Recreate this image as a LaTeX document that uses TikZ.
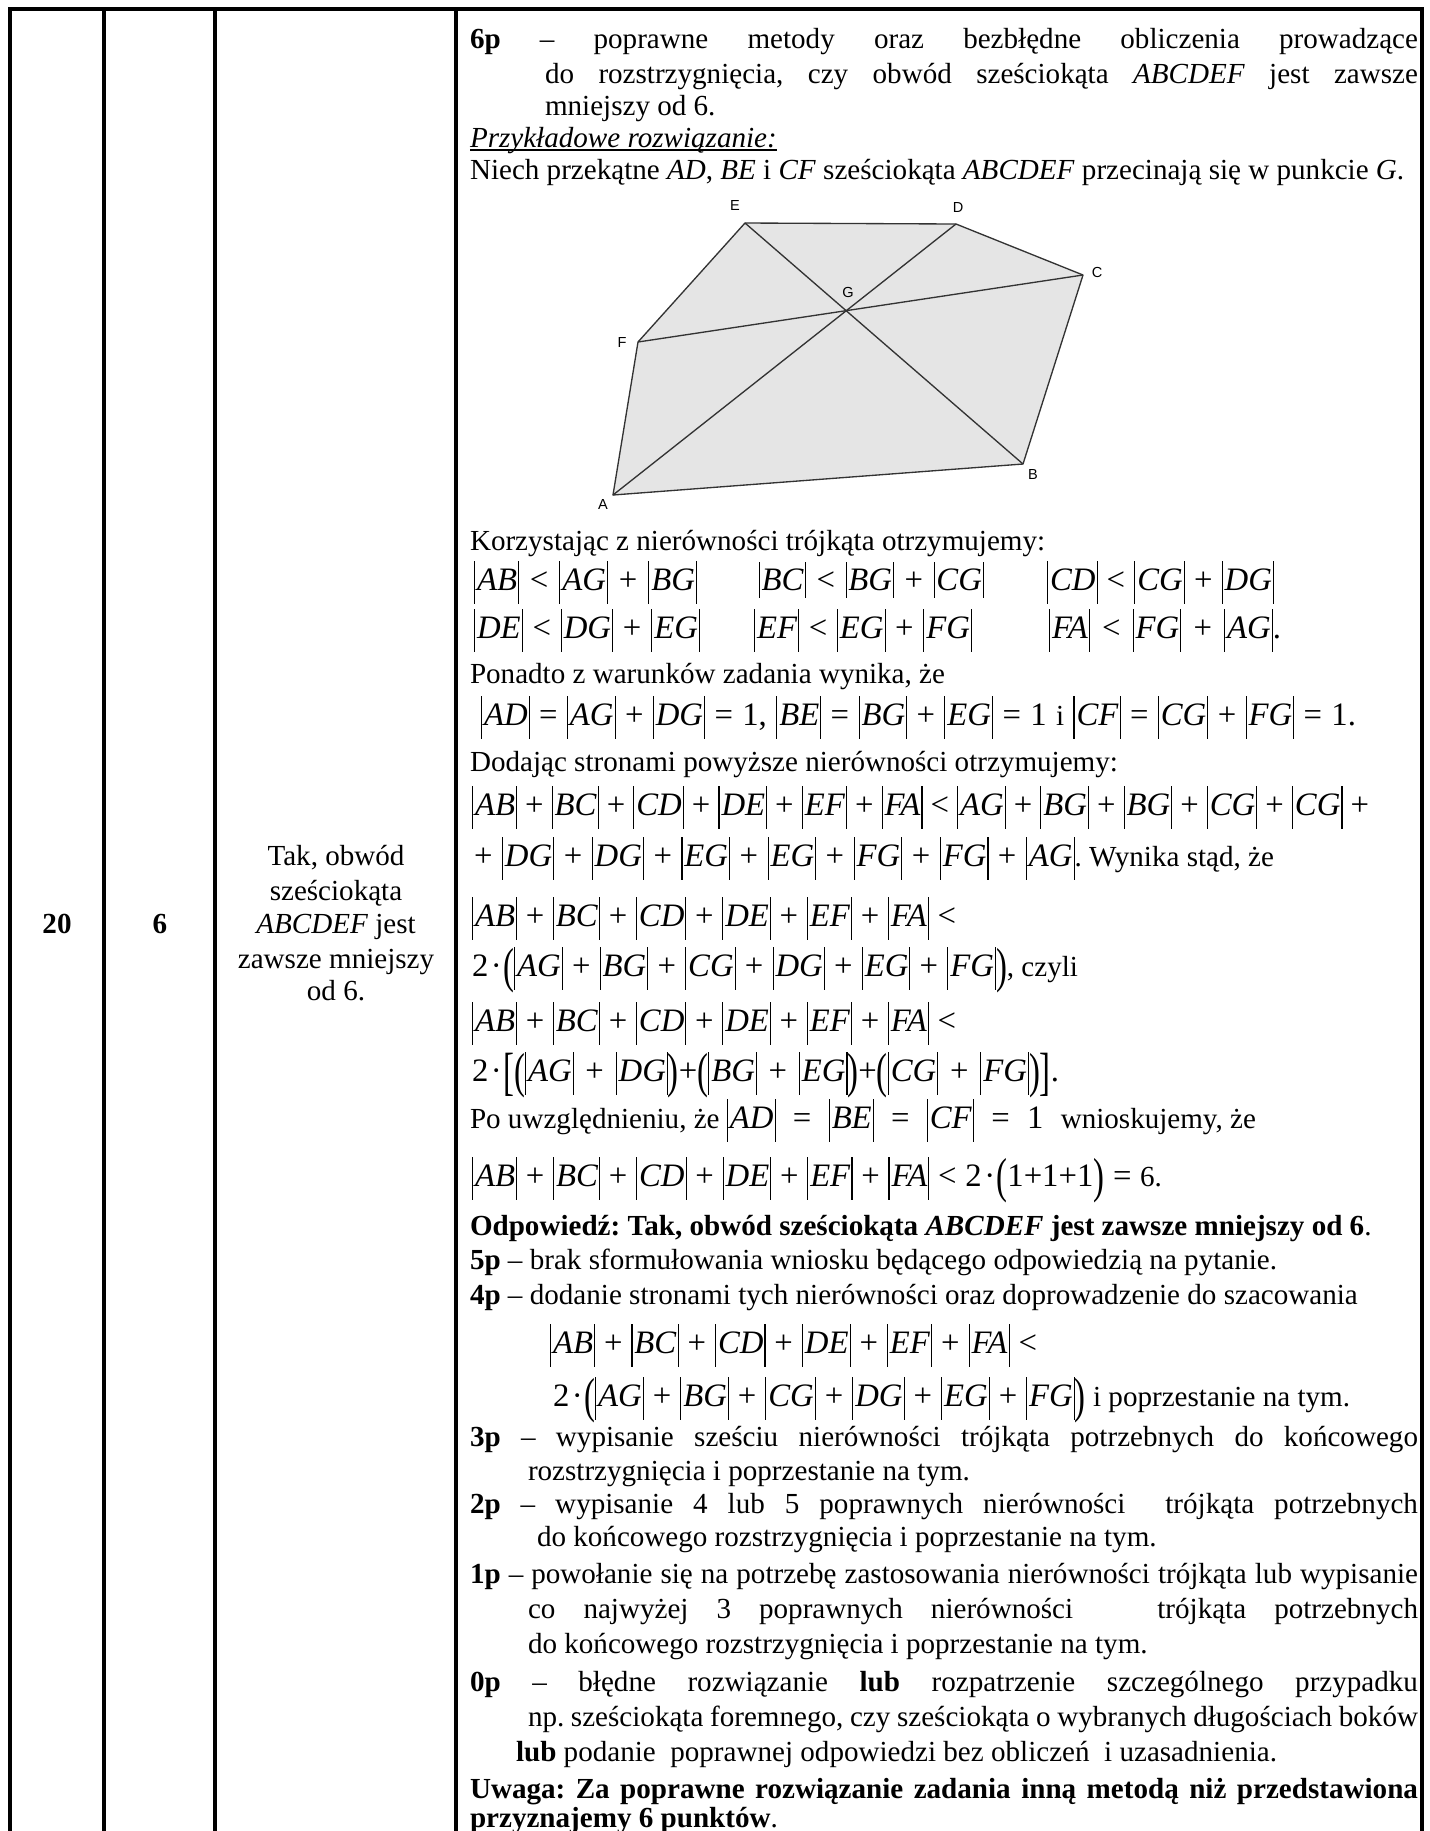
\documentclass[tikz,border=0pt]{standalone}
\usepackage{fontspec}
\usepackage{graphicx}
\setmainfont{Liberation Serif}
\newfontfamily\lblfont{Liberation Sans}
\newdimen\pxu \pxu=0.4125pt
\newcommand\fmath{\fontsize{13.5pt}{14pt}\selectfont}
\newcommand\vb{\rule[-0.42em]{0.45pt}{1.3em}}
\newcommand\vbs{\rule[-0.24em]{0.45pt}{1.1em}}
\newcommand\nv[1]{{\fmath\vb\kern0.06em\textit{#1}\kern0.03em\vb}}
\newcommand\nvs[1]{{\fmath\vbs\kern0.05em\textit{#1}\kern0.03em\vbs}}
\newcommand\gl{\hspace{0pt plus 1fil}}
\newcommand\Op[1]{\gl{\fmath#1}\gl}
\newcommand\LP{{\fmath\raisebox{-0.2em}{\scalebox{1}[1.5]{(}}}}
\newcommand\RP{{\fmath\raisebox{-0.2em}{\scalebox{1}[1.5]{)}}}}
\newcommand\LB{{\fmath\raisebox{-0.26em}{\scalebox{1}[1.6]{[}}}}
\newcommand\RB{{\fmath\raisebox{-0.26em}{\scalebox{1}[1.6]{]}}}}
\newcommand\two{{\fmath 2\kern0.08em·\kern0.04em}}
\newcommand\J[2]{\makebox[#1\pxu][s]{#2}}
\newcommand\ulin[1]{\setbox0=\hbox{#1}\rlap{\rule[-1.6pt]{\wd0}{0.6pt}}\box0}
\newcommand\lhs{\nv{AB}\Op{+}\nv{BC}\Op{+}\nv{CD}\Op{+}\nv{DE}\Op{+}\nv{EF}\Op{+}\nv{FA}}
\frenchspacing
\begin{document}
\begin{tikzpicture}[x=0.4125pt,y=-0.4125pt,
  txt/.style={inner sep=0pt,outer sep=0pt,anchor=base west,font=\fontsize{12pt}{14pt}\selectfont},
  ctr/.style={inner sep=0pt,outer sep=0pt,anchor=base,font=\fontsize{12pt}{14pt}\selectfont},
  tbl/.style={line width=1.4pt,black},
  lbl/.style={inner sep=0pt,font=\lblfont\fontsize{6pt}{7pt}\selectfont},
  edge/.style={line width=0.55pt,black!80}]
\useasboundingbox (0,0) rectangle (1430,1831);
% table
\draw[tbl] (10,1831) -- (10,9) -- (1422,9) -- (1422,1831);
\draw[tbl] (104,9) -- (104,1831);
\draw[tbl] (215,9) -- (215,1831);
\draw[tbl] (456,9) -- (456,1831);
% left columns
\node[ctr] (c1) at (57,933) {\textbf{20}};
\node[ctr] (c2) at (160,933) {\textbf{6}};
\node[ctr] (c3a) at (336,865) {Tak, obwód};
\node[ctr] (c3b) at (336,900) {sześciokąta};
\node[ctr] (c3c) at (336,933) {\textit{ABCDEF} jest};
\node[ctr] (c3d) at (336,968) {zawsze mniejszy};
\node[ctr] (c3e) at (336,1000) {od 6.};
% header text
\node[txt] (t1) at (470,48) {\J{948}{\textbf{6p} – poprawne metody oraz bezbłędne obliczenia prowadzące}};
\node[txt] (t2) at (545,83) {\J{873}{do rozstrzygnięcia, czy obwód sześciokąta \textit{ABCDEF} jest zawsze}};
\node[txt] (t3) at (545,115) {mniejszy od 6.};
\node[txt] (t4) at (470,147) {\ulin{\textit{Przykładowe rozwiązanie:}}};
\node[txt] (t5) at (470,179) {Niech przekątne \textit{AD}, \textit{BE} i \textit{CF} sześciokąta \textit{ABCDEF} przecinają się w punkcie \textit{G}.};
% figure
\coordinate (A) at (613,495);
\coordinate (B) at (1023,464);
\coordinate (C) at (1083,275);
\coordinate (D) at (956,224);
\coordinate (E) at (745,223);
\coordinate (F) at (638,342);
\coordinate (G) at (847,310);
\fill[black!10] (A) -- (B) -- (C) -- (D) -- (E) -- (F) -- cycle;
\draw[edge,line join=round] (A) -- (B) -- (C) -- (D) -- (E) -- (F) -- cycle;
\draw[edge] (A) -- (D);
\draw[edge] (B) -- (E);
\draw[edge] (C) -- (F);
\node[lbl] (lE) at (735,205) {E};
\node[lbl] (lD) at (958,207) {D};
\node[lbl] (lC) at (1097,272) {C};
\node[lbl] (lG) at (848,292) {G};
\node[lbl] (lF) at (622,342) {F};
\node[lbl] (lB) at (1033,474) {B};
\node[lbl] (lA) at (603,504) {A};
% solution
\node[txt] (t6) at (470,550) {Korzystając z nierówności trójkąta otrzymujemy:};
\node[txt] (f1a) at (474,590) {\J{223}{\nv{AB}\Op{<}\nv{AG}\Op{+}\nv{BG}}};
\node[txt] (f1b) at (759,590) {\J{225}{\nvs{BC}\Op{<}\nvs{BG}\Op{+}\nvs{CG}}};
\node[txt] (f1c) at (1047,590) {\J{227}{\nv{CD}\Op{<}\nv{CG}\Op{+}\nv{DG}}};
\node[txt] (f2a) at (474,638) {\J{226}{\nv{DE}\Op{<}\nv{DG}\Op{+}\nv{EG}}};
\node[txt] (f2b) at (754,638) {\J{218}{\nv{EF}\Op{<}\nv{EG}\Op{+}\nv{FG}}};
\node[txt] (f2c) at (1049,638) {\J{232}{\nv{FA}\Op{<}\nv{FG}\Op{+}\nv{AG}{\fmath.}}};
\node[txt] (t7) at (470,683) {Ponadto z warunków zadania wynika, że};
\node[txt] (f3) at (481,725) {\J{875}{\nv{AD}\Op{=}\nv{AG}\Op{+}\nv{DG}\Op{=}{\fmath 1,}\gl\nv{BE}\Op{=}\nv{BG}\Op{+}\nv{EG}\Op{=}{\fmath 1}\gl i\gl\nv{CF}\Op{=}\nv{CG}\Op{+}\nv{FG}\Op{=}{\fmath 1.}}};
\node[txt] (t8) at (470,771) {Dodając stronami powyższe nierówności otrzymujemy:};
\node[txt] (f4) at (472,815) {\J{897}{\lhs\Op{<}\nv{AG}\Op{+}\nv{BG}\Op{+}\nv{BG}\Op{+}\nv{CG}\Op{+}\nv{CG}\gl{\fmath+}}};
\node[txt] (f5) at (474,866) {\J{800}{{\fmath+}\gl\nv{DG}\Op{+}\nv{DG}\Op{+}\nv{EG}\Op{+}\nv{EG}\Op{+}\nv{FG}\Op{+}\nv{FG}\Op{+}\nv{AG}. Wynika stąd, że}};
\node[txt] (f6) at (472,926) {\J{484}{\lhs\gl{\fmath<}}};
\node[txt] (f7) at (472,976) {\J{606}{\two\LP\nv{AG}\Op{+}\nv{BG}\Op{+}\nv{CG}\Op{+}\nv{DG}\Op{+}\nv{EG}\Op{+}\nv{FG}\RP, czyli}};
\node[txt] (f8) at (472,1031) {\J{484}{\lhs\gl{\fmath<}}};
\node[txt] (f9) at (472,1081) {\J{587}{\two\LB\LP\nv{AG}\Op{+}\nv{DG}\RP{\fmath+}\LP\nv{BG}\Op{+}\nv{EG}\RP{\fmath+}\LP\nv{CG}\Op{+}\nv{FG}\RP\RB{\fmath.}}};
\node[txt] (f10) at (470,1128) {\J{786}{Po uwzględnieniu, że \nv{AD}\Op{=}\nv{BE}\Op{=}\nv{CF}\Op{=}{\fmath 1}\gl wnioskujemy, że}};
\node[txt] (f11) at (472,1186) {\J{690}{\lhs\Op{<}\two\LP{\fmath 1+1+1}\RP\Op{=}6.}};
\node[txt] (t9) at (470,1235) {\textbf{Odpowiedź: Tak, obwód sześciokąta \textit{ABCDEF} jest zawsze mniejszy od 6}.};
\node[txt] (t10) at (470,1269) {\textbf{5p} – brak sformułowania wniosku będącego odpowiedzią na pytanie.};
\node[txt] (t11) at (470,1304) {\textbf{4p} – dodanie stronami tych nierówności oraz doprowadzenie do szacowania};
\node[txt] (f12) at (550,1353) {\J{487}{\lhs\gl{\fmath<}}};
\node[txt] (f13) at (553,1406) {\J{797}{\two\LP\nv{AG}\Op{+}\nv{BG}\Op{+}\nv{CG}\Op{+}\nv{DG}\Op{+}\nv{EG}\Op{+}\nv{FG}\RP\ i poprzestanie na tym.}};
\node[txt] (t12) at (470,1446) {\J{948}{\textbf{3p} – wypisanie sześciu nierówności trójkąta potrzebnych do końcowego}};
\node[txt] (t13) at (528,1480) {rozstrzygnięcia i poprzestanie na tym.};
\node[txt] (t14) at (470,1513) {\J{948}{\textbf{2p} – wypisanie 4 lub 5 poprawnych nierówności\ \ trójkąta potrzebnych}};
\node[txt] (t15) at (537,1546) {do końcowego rozstrzygnięcia i poprzestanie na tym.};
\node[txt] (t16) at (470,1583) {\J{948}{\textbf{1p} – powołanie się na potrzebę zastosowania nierówności trójkąta lub wypisanie}};
\node[txt] (t17) at (528,1618) {\J{890}{co najwyżej 3 poprawnych nierówności\ \ \ trójkąta potrzebnych}};
\node[txt] (t18) at (528,1653) {do końcowego rozstrzygnięcia i poprzestanie na tym.};
\node[txt] (t19) at (470,1691) {\J{948}{\textbf{0p} – błędne rozwiązanie \textbf{lub} rozpatrzenie szczególnego przypadku}};
\node[txt] (t20) at (528,1726) {\J{890}{np. sześciokąta foremnego, czy sześciokąta o wybranych długościach boków}};
\node[txt] (t21) at (516,1761) {\textbf{lub} podanie\ \ poprawnej odpowiedzi bez obliczeń\ \ i uzasadnienia.};
\node[txt] (t22) at (470,1798) {\J{948}{\textbf{Uwaga: Za poprawne rozwiązanie zadania inną metodą niż przedstawiona}}};
\node[txt] (t23) at (470,1827) {\textbf{przyznajemy 6 punktów}.};
\end{tikzpicture}
\end{document}
